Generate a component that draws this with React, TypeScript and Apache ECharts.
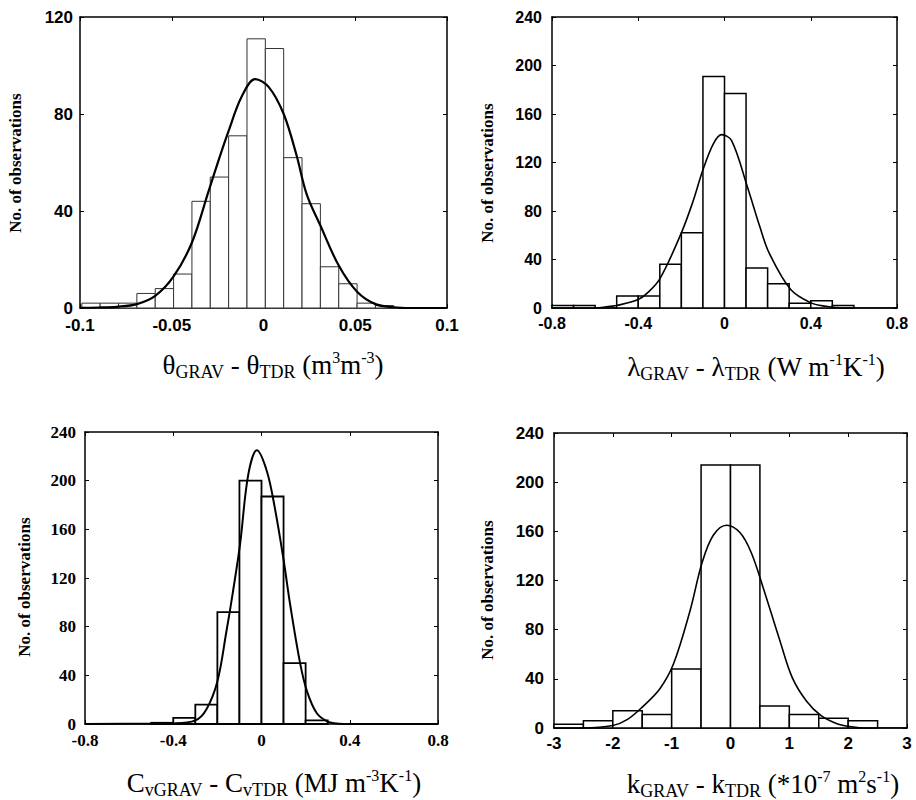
import React, { useEffect, useRef } from "react";
import * as echarts from "echarts";

// ---------- Data ----------
// Panel 1: theta (m3 m-3)
const P1_BIN_WIDTH = 0.01;
const P1_BIN_LEFT = [-0.099, -0.089, -0.079, -0.069, -0.059, -0.049, -0.039, -0.029, -0.019, -0.009, 0.001, 0.011, 0.021, 0.031, 0.041, 0.051, 0.061];
const P1_COUNTS = [2, 2, 2, 6, 8, 14, 44, 54, 71, 111, 107, 62, 43, 17, 10, 2, 1];
const P1_CURVE_X = [-0.1, -0.09, -0.08, -0.069, -0.059, -0.049, -0.039, -0.03, -0.024, -0.019, -0.012, -0.0045, 0.003, 0.011, 0.018, 0.0235, 0.031, 0.041, 0.051, 0.061, 0.071, 0.08, 0.1];
const P1_CURVE_Y = [0.1, 0.2, 0.5, 1.6, 5, 13, 27, 48, 62, 73, 87, 94.4, 91, 80, 63, 47, 34, 17.5, 6.7, 1.6, 0.3, 0, 0];
const P1_X_TICKS = [-0.1, 0.1, 0.05];
const P1_Y_TICKS = [0, 120, 40];

// Panel 2: lambda (W m-1 K-1)
const P2_BIN_WIDTH = 0.1;
const P2_BIN_LEFT = [-0.8, -0.7, -0.6, -0.5, -0.4, -0.3, -0.2, -0.1, 0, 0.1, 0.2, 0.3, 0.4, 0.5];
const P2_COUNTS = [2, 2, 0, 10, 10, 36, 62, 191, 177, 33, 20, 4, 6, 2];
const P2_CURVE_X = [-0.8, -0.6, -0.53, -0.5, -0.4, -0.36, -0.3, -0.2, -0.144, -0.1, -0.05, -0.013, 0.033, 0.106, 0.164, 0.208, 0.308, 0.404, 0.47, 0.55, 0.8];
const P2_CURVE_Y = [0, 0, 1.4, 2, 7, 12, 24, 62, 89, 114, 136, 143, 138, 100, 67, 45, 15, 4, 1.4, 0, 0];
const P2_X_TICKS = [-0.8, 0.8, 0.4];
const P2_Y_TICKS = [0, 240, 40];

// Panel 3: Cv (MJ m-3 K-1)
const P3_BIN_WIDTH = 0.1;
const P3_BIN_LEFT = [-0.5, -0.4, -0.3, -0.2, -0.1, 0, 0.1, 0.2];
const P3_COUNTS = [1, 5, 16, 92, 200, 187, 50, 3];
const P3_CURVE_X = [-0.8, -0.5, -0.4, -0.3, -0.25, -0.2, -0.16, -0.13, -0.097, -0.06, -0.021, 0.024, 0.06, 0.1, 0.13, 0.175, 0.206, 0.25, 0.3, 0.35, 0.4, 0.8];
const P3_CURVE_Y = [0, 0.3, 0.5, 3, 12, 35, 75, 108, 148, 205, 225, 208, 178, 135, 98, 50, 27, 9, 2, 0.3, 0, 0];
const P3_X_TICKS = [-0.8, 0.8, 0.4];
const P3_Y_TICKS = [0, 240, 40];

// Panel 4: k (*10-7 m2 s-1)
const P4_BIN_WIDTH = 0.5;
const P4_BIN_LEFT = [-3, -2.5, -2, -1.5, -1, -0.5, 0, 0.5, 1, 1.5, 2];
const P4_COUNTS = [3, 6, 14, 11, 48, 214, 214, 18, 11, 8, 6];
const P4_CURVE_X = [-3, -2.5, -2, -1.75, -1.5, -1.2, -0.97, -0.69, -0.48, -0.29, -0.065, 0.16, 0.35, 0.55, 0.84, 1.05, 1.29, 1.54, 1.81, 2.06, 2.3, 3];
const P4_CURVE_Y = [0, 0, 2, 7, 17, 32, 52, 95, 135, 157, 165, 159, 143, 115, 71, 41, 22, 10, 3.5, 1, 0, 0];
const P4_X_TICKS = [-3, 3, 1];
const P4_Y_TICKS = [0, 240, 40];

const Y_TITLE = "No. of observations";

// ---------- Layout / style ----------
type PanelCfg = {
  binLeft: number[]; binWidth: number; counts: number[];
  cx: number[]; cy: number[]; xt: number[]; yt: number[];
  grid: { left: number; top: number; width: number; height: number };
  tickFont: string; tickSize: number; xMargin: number; yMargin: number;
  barStroke: string; barWidth: number; curveWidth: number; frameWidth: number;
};

const PANELS: PanelCfg[] = [
  { binLeft: P1_BIN_LEFT, binWidth: P1_BIN_WIDTH, counts: P1_COUNTS, cx: P1_CURVE_X, cy: P1_CURVE_Y, xt: P1_X_TICKS, yt: P1_Y_TICKS,
    grid: { left: 80, top: 17, width: 367, height: 291 }, tickFont: "Liberation Sans", tickSize: 17, xMargin: 9, yMargin: 7,
    barStroke: "#333", barWidth: 1, curveWidth: 2.2, frameWidth: 1.5 },
  { binLeft: P2_BIN_LEFT, binWidth: P2_BIN_WIDTH, counts: P2_COUNTS, cx: P2_CURVE_X, cy: P2_CURVE_Y, xt: P2_X_TICKS, yt: P2_Y_TICKS,
    grid: { left: 552, top: 17, width: 345, height: 291 }, tickFont: "Liberation Sans", tickSize: 16, xMargin: 7, yMargin: 10,
    barStroke: "#000", barWidth: 1.5, curveWidth: 1.6, frameWidth: 1.5 },
  { binLeft: P3_BIN_LEFT, binWidth: P3_BIN_WIDTH, counts: P3_COUNTS, cx: P3_CURVE_X, cy: P3_CURVE_Y, xt: P3_X_TICKS, yt: P3_Y_TICKS,
    grid: { left: 85, top: 432, width: 353, height: 292 }, tickFont: "Liberation Serif", tickSize: 17, xMargin: 8, yMargin: 9,
    barStroke: "#000", barWidth: 1.8, curveWidth: 2, frameWidth: 1.5 },
  { binLeft: P4_BIN_LEFT, binWidth: P4_BIN_WIDTH, counts: P4_COUNTS, cx: P4_CURVE_X, cy: P4_CURVE_Y, xt: P4_X_TICKS, yt: P4_Y_TICKS,
    grid: { left: 554, top: 433, width: 353, height: 295 }, tickFont: "Liberation Sans", tickSize: 17, xMargin: 7, yMargin: 10,
    barStroke: "#000", barWidth: 1.5, curveWidth: 1.6, frameWidth: 1.5 },
];

const SERIF = "Liberation Serif";
const richStyles = {
  m: { fontFamily: SERIF, fontSize: 27, lineHeight: 32, color: "#000" },
  s: { fontFamily: SERIF, fontSize: 18, lineHeight: 21, verticalAlign: "bottom", color: "#000" },
  p: { fontFamily: SERIF, fontSize: 16, lineHeight: 16, verticalAlign: "top", color: "#000" },
};

const X_TITLES = [
  { x: 273, y: 365, text: "{m|θ}{s|GRAV}{m| - θ}{s|TDR}{m| (m}{p|3}{m|m}{p|-3}{m|)}" },
  { x: 756, y: 367, text: "{m|λ}{s|GRAV}{m| - λ}{s|TDR}{m| (W m}{p|-1}{m|K}{p|-1}{m|)}" },
  { x: 274, y: 783, text: "{m|C}{s|vGRAV}{m| - C}{s|vTDR}{m| (MJ m}{p|-3}{m|K}{p|-1}{m|)}" },
  { x: 763, y: 784, text: "{m|k}{s|GRAV}{m| - k}{s|TDR}{m| (*10}{p|-7}{m| m}{p|2}{m|s}{p|-1}{m|)}" },
];
const Y_TITLE_POS = [
  { x: 15, y: 163 },
  { x: 487, y: 173 },
  { x: 24, y: 587 },
  { x: 487, y: 590 },
];

function buildOption() {
  const grid: any[] = [];
  const xAxis: any[] = [];
  const yAxis: any[] = [];
  const series: any[] = [];
  const graphic: any[] = [];

  PANELS.forEach((p, i) => {
    grid.push({ ...p.grid, containLabel: false, show: false });
    const line = { show: true, onZero: false, lineStyle: { color: "#000", width: p.frameWidth } };
    const tick = { show: true, inside: true, length: 4, lineStyle: { color: "#000", width: 1 } };
    const label = { color: "#000", fontFamily: p.tickFont, fontWeight: "bold", fontSize: p.tickSize };
    const [xmin, xmax, xint] = p.xt;
    const [ymin, ymax, yint] = p.yt;
    xAxis.push({ type: "value", gridIndex: i, position: "bottom", min: xmin, max: xmax, interval: xint,
      axisLine: line, axisTick: tick, splitLine: { show: false }, axisLabel: { ...label, margin: p.xMargin } });
    xAxis.push({ type: "value", gridIndex: i, position: "top", min: xmin, max: xmax, interval: xint,
      axisLine: line, axisTick: tick, splitLine: { show: false }, axisLabel: { show: false } });
    yAxis.push({ type: "value", gridIndex: i, position: "left", min: ymin, max: ymax, interval: yint,
      axisLine: line, axisTick: tick, splitLine: { show: false }, axisLabel: { ...label, margin: p.yMargin } });
    yAxis.push({ type: "value", gridIndex: i, position: "right", min: ymin, max: ymax, interval: yint,
      axisLine: line, axisTick: tick, splitLine: { show: false }, axisLabel: { show: false } });

    const barData = p.binLeft.map((l, k) => [l, l + p.binWidth, p.counts[k]]);
    series.push({
      type: "custom", xAxisIndex: 2 * i, yAxisIndex: 2 * i, data: barData, silent: true, z: 2,
      encode: { x: [0, 1], y: 2 },
      renderItem: (_params: any, api: any) => {
        const a = api.coord([api.value(0), api.value(2)]);
        const b = api.coord([api.value(1), 0]);
        return { type: "rect", shape: { x: a[0], y: a[1], width: b[0] - a[0], height: b[1] - a[1] },
          style: { fill: "#fff", stroke: p.barStroke, lineWidth: p.barWidth } };
      },
    });
    series.push({
      type: "line", xAxisIndex: 2 * i, yAxisIndex: 2 * i, z: 3, silent: true,
      data: p.cx.map((x, k) => [x, p.cy[k]]), smooth: 0.35, symbol: "none", showSymbol: false,
      lineStyle: { color: "#000", width: p.curveWidth },
    });

    graphic.push({ type: "text", x: X_TITLES[i].x, y: X_TITLES[i].y,
      style: { text: X_TITLES[i].text, rich: richStyles, align: "center", verticalAlign: "middle" } });
    graphic.push({ type: "text", x: Y_TITLE_POS[i].x, y: Y_TITLE_POS[i].y, rotation: Math.PI / 2,
      style: { text: Y_TITLE, fontFamily: SERIF, fontWeight: "bold", fontSize: 17, fill: "#000", align: "center", verticalAlign: "middle" } });
  });

  return { animation: false, backgroundColor: "#fff", grid, xAxis, yAxis, series, graphic };
}

export default function App() {
  const ref = useRef<HTMLDivElement>(null);
  useEffect(() => {
    if (!ref.current) return;
    const chart = echarts.init(ref.current, undefined, { renderer: "svg" });
    chart.setOption(buildOption() as any);
    return () => chart.dispose();
  }, []);
  return <div ref={ref} style={{ position: "absolute", left: 0, top: 0, width: 916, height: 800 }} />;
}
